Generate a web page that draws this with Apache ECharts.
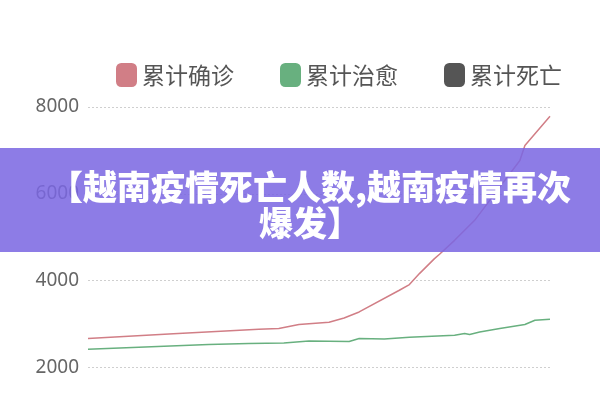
<!DOCTYPE html>
<html>
<head>
<meta charset="utf-8">
<style>
html,body{margin:0;padding:0;background:#fff;}
#c{width:600px;height:400px;}
</style>
<script src="https://cdn.jsdelivr.net/npm/echarts@6/dist/echarts.min.js"></script>
</head>
<body>
<div id="c"></div>
<script>
// Series names
const seriesNames = ['累计确诊', '累计治愈', '累计死亡'];
// [day index, value] at visible kinks
const confirmed = [[0,2662],[17,2770],[34,2876],[38,2893],[42,2985],[48,3038],[51,3137],[54,3275],[62,3775],[64,3906],[66,4159],[69,4505],[70,4604],[73,4926],[77,5387],[80,5848],[83,6308],[86,6768],[87,7114],[92,7789]];
const recovered = [[0,2416],[24,2524],[32,2547],[39,2561],[44,2607],[52,2593],[54,2662],[59,2653],[64,2692],[73,2739],[75,2777],[76,2754],[78,2814],[82,2893],[87,2985],[89,3084],[92,3107]];
const deaths = [[0,35],[92,35]];
const yTicks = [0, 2000, 4000, 6000, 8000];
const titleLines = ['【越南疫情死亡人数,越南疫情再次', '爆发】'];

const colors = ['#d17e86', '#68b07f', '#555555'];

const chart = echarts.init(document.getElementById('c'), null, {renderer: 'canvas'});
chart.setOption({
  animation: false,
  backgroundColor: '#fff',
  color: colors,
  legend: {
    data: seriesNames,
    left: 111, top: 58,
    itemWidth: 21, itemHeight: 24, itemGap: 46,
    icon: 'roundRect',
    textStyle: {fontSize: 23, color: '#555', fontFamily: '"Noto Sans CJK SC"'}
  },
  grid: {left: 88, right: 50, top: 107, height: 347, containLabel: false, outerBoundsMode: 'none'},
  xAxis: {type: 'value', min: 0, max: 92, show: false},
  yAxis: {
    type: 'value', min: yTicks[0], max: yTicks[yTicks.length-1], interval: 2000,
    axisLine: {show: false}, axisTick: {show: false},
    axisLabel: {fontSize: 19, color: '#666', margin: 9, fontFamily: '"Noto Sans"', formatter: function (v) { return String(v); }},
    splitLine: {lineStyle: {color: '#cfcfcf', type: [2, 2], width: 1}}
  },
  series: [
    {name: seriesNames[0], type: 'line', data: confirmed, symbol: 'none', lineStyle: {width: 1.5, color: colors[0]}},
    {name: seriesNames[1], type: 'line', data: recovered, symbol: 'none', lineStyle: {width: 1.5, color: colors[1]}},
    {name: seriesNames[2], type: 'line', data: deaths, symbol: 'none', lineStyle: {width: 1.5, color: colors[2]}}
  ],
  graphic: [
    {type: 'rect', z: 100, shape: {x: 0, y: 148, width: 600, height: 104}, style: {fill: 'rgba(122,103,226,0.86)'}},
    {type: 'text', z: 101, x: 310, y: 187, style: {text: titleLines[0], fill: '#fff', font: '900 34px "Noto Sans CJK SC"', textAlign: 'center', textVerticalAlign: 'middle'}},
    {type: 'text', z: 101, x: 310, y: 223, style: {text: titleLines[1], fill: '#fff', font: '900 34px "Noto Sans CJK SC"', textAlign: 'center', textVerticalAlign: 'middle'}}
  ]
});
</script>
</body>
</html>
